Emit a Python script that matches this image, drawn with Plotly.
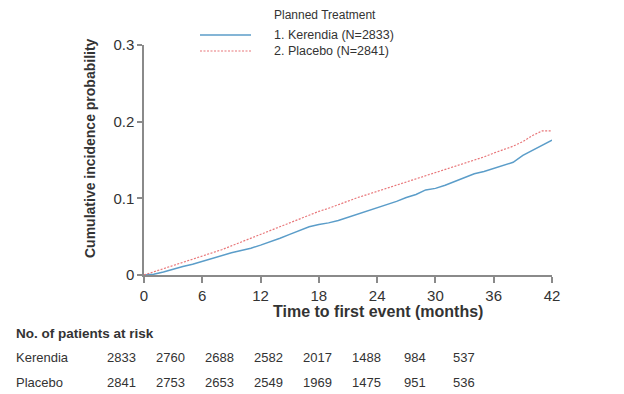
import plotly.graph_objects as go

# ---- data ----
months = list(range(0, 43))
kerendia = [0.000, 0.001, 0.004, 0.008, 0.011, 0.014, 0.018, 0.022, 0.026, 0.029,
            0.032, 0.035, 0.039, 0.043, 0.048, 0.053, 0.058, 0.063, 0.066, 0.068,
            0.071, 0.075, 0.079, 0.083, 0.087, 0.091, 0.096, 0.101, 0.105, 0.111,
            0.113, 0.117, 0.122, 0.127, 0.132, 0.135, 0.139, 0.142, 0.147, 0.156,
            0.163, 0.170, 0.176]
placebo = [0.000, 0.004, 0.008, 0.012, 0.016, 0.020, 0.024, 0.028, 0.033, 0.038,
           0.043, 0.048, 0.053, 0.058, 0.063, 0.068, 0.073, 0.078, 0.083, 0.087,
           0.092, 0.097, 0.101, 0.105, 0.109, 0.113, 0.117, 0.121, 0.125, 0.129,
           0.133, 0.137, 0.141, 0.145, 0.149, 0.154, 0.159, 0.163, 0.168, 0.174,
           0.182, 0.188, 0.188]
x_ticks = [0, 6, 12, 18, 24, 30, 36, 42]
y_ticks = [0, 0.1, 0.2, 0.3]
y_tick_labels = ["0", "0.1", "0.2", "0.3"]
risk_labels = ["Kerendia", "Placebo"]
risk_kerendia = [2833, 2760, 2688, 2582, 2017, 1488, 984, 537]
risk_placebo = [2841, 2753, 2653, 2549, 1969, 1475, 951, 536]
legend_title = "Planned Treatment"
legend_names = ["1. Kerendia (N=2833)", "2. Placebo (N=2841)"]

BLUE = "#5b9dc9"
RED = "#e8777a"
TXT = "#333333"
AX = "#8a8a8a"
FONT = "Liberation Sans, Arial, sans-serif"

OFF = 8  # page body margin
W, H = 624 - OFF, 394 - OFF
L, T = 144 - OFF, 45 - OFF
R = W - (552 - OFF)
B = H - (275 - OFF)
PW, PH = W - L - R, H - T - B


def px(xp):
    return (xp - OFF - L) / PW


def py(yp):
    return (H - B - (yp - OFF)) / PH


fig = go.Figure()
fig.add_trace(go.Scatter(x=months, y=kerendia, mode="lines", name=legend_names[0],
                         line=dict(color=BLUE, width=1.5), showlegend=False))
fig.add_trace(go.Scatter(x=months, y=placebo, mode="lines", name=legend_names[1],
                         line=dict(color=RED, width=1.2, dash="2px,1.5px"), showlegend=False))

ann = []
shapes = []
# legend
ann.append(dict(x=px(272), y=py(15), xref="paper", yref="paper", text=legend_title,
                showarrow=False, xanchor="left", yanchor="middle",
                font=dict(size=12, color=TXT, family=FONT)))
for i, (nm, col, dash) in enumerate(zip(legend_names, [BLUE, RED], ["solid", "2px,1.5px"])):
    yy = 35 + i * 16
    ann.append(dict(x=px(272), y=py(yy), xref="paper", yref="paper", text=nm,
                    showarrow=False, xanchor="left", yanchor="middle",
                    font=dict(size=12.5, color=TXT, family=FONT)))
    shapes.append(dict(type="line", xref="paper", yref="paper",
                       x0=px(200), x1=px(251), y0=py(yy), y1=py(yy),
                       line=dict(color=col, width=1.5 if i == 0 else 1.2, dash=dash)))

# axis titles
ann.append(dict(x=px(90), y=py(148), xref="paper", yref="paper",
                text="<b>Cumulative incidence probability</b>", textangle=-90,
                showarrow=False, xanchor="center", yanchor="middle",
                font=dict(size=14, color=TXT, family=FONT)))
ann.append(dict(x=px(378), y=py(311), xref="paper", yref="paper",
                text="<b>Time to first event (months)</b>",
                showarrow=False, xanchor="center", yanchor="middle",
                font=dict(size=16, color=TXT, family=FONT)))

# risk table
ann.append(dict(x=px(14), y=py(333), xref="paper", yref="paper",
                text="<b>No. of patients at risk</b>",
                showarrow=False, xanchor="left", yanchor="middle",
                font=dict(size=13.5, color=TXT, family=FONT)))
col0, step = 121, 49
for r, (lab, vals) in enumerate(zip(risk_labels, [risk_kerendia, risk_placebo])):
    yy = 357 + r * 25
    ann.append(dict(x=px(14), y=py(yy), xref="paper", yref="paper", text=lab,
                    showarrow=False, xanchor="left", yanchor="middle",
                    font=dict(size=13, color=TXT, family=FONT)))
    for c, v in enumerate(vals):
        ann.append(dict(x=px(col0 + c * step), y=py(yy), xref="paper", yref="paper",
                        text=str(v), showarrow=False, xanchor="center", yanchor="middle",
                        font=dict(size=13, color=TXT, family=FONT)))

fig.update_layout(
    width=W, height=H, margin=dict(l=L, r=R, t=T, b=B, pad=0),
    paper_bgcolor="white", plot_bgcolor="white",
    annotations=ann, shapes=shapes, showlegend=False,
    font=dict(family=FONT, color=TXT),
)
fig.update_xaxes(range=[0, 42], tickvals=x_ticks, showgrid=False, zeroline=False,
                 showline=True, linecolor=AX, linewidth=1.5, ticks="outside",
                 ticklen=6, tickcolor=AX, tickwidth=1.5,
                 tickfont=dict(size=15, color=TXT, family=FONT))
fig.update_yaxes(range=[0, 0.3], tickvals=y_ticks, ticktext=y_tick_labels,
                 showgrid=False, zeroline=False, showline=True, linecolor=AX,
                 linewidth=1.5, ticks="outside", ticklen=5, tickcolor=AX, tickwidth=1.5,
                 tickfont=dict(size=15, color=TXT, family=FONT))

fig.write_html("out.html")
